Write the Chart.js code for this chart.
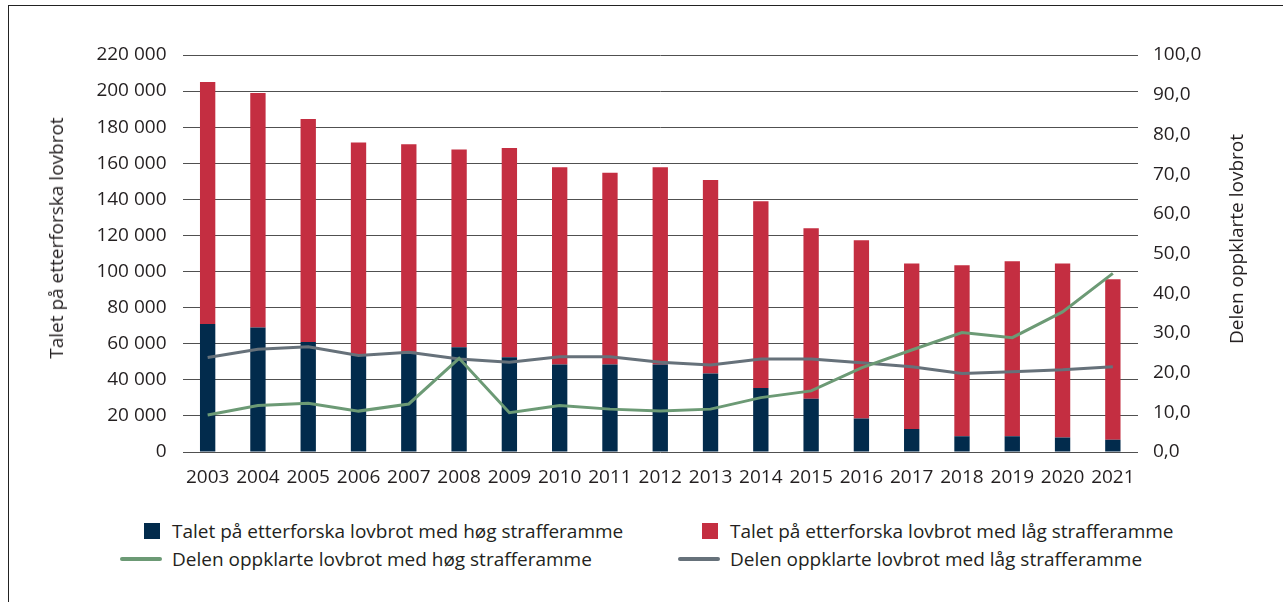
<!DOCTYPE html>
<html>
<head>
<meta charset="utf-8">
<script src="https://cdn.jsdelivr.net/npm/chart.js@4/dist/chart.umd.min.js"></script>
<style>
  html, body { margin: 0; padding: 0; background: #fff; overflow: hidden; width: 1283px; height: 602px; }
  #frame { position: absolute; left: 8px; top: 5px; width: 1400px; height: 700px; border: 1.5px solid #222; box-sizing: border-box; }
  #wrap { position: absolute; left: 0; top: 0; width: 1283px; height: 495px; }
  #legend { position: absolute; left: 120px; top: 518px; font-family: "Open Sans", sans-serif; font-size: 19px; color: #231f20; }
  .item { position: absolute; white-space: nowrap; height: 26px; line-height: 26px; }
  .mk { position: absolute; left: 0; top: 0; width: 42px; height: 26px; }
  .txt { position: absolute; left: 52px; top: 0; }
  .atitle { position: absolute; white-space: nowrap; font-family: "Open Sans", sans-serif; font-size: 19px; color: #231f20;
            transform: translate(-50%, -50%) rotate(-90deg); line-height: 22px; }
</style>
</head>
<body>
<div id="frame"></div>
<div id="wrap"><canvas id="c" width="1283" height="495"></canvas></div>
<div id="legend"></div>
<div id="tl" class="atitle" style="left:56px; top:238px;"></div>
<div id="tr" class="atitle" style="left:1236px; top:239px;"></div>
<script>
const years = ['2003','2004','2005','2006','2007','2008','2009','2010','2011','2012','2013','2014','2015','2016','2017','2018','2019','2020','2021'];
const hoegCount = [71000, 69000, 61000, 54000, 55500, 58000, 52500, 48500, 48500, 48500, 43500, 35500, 29500, 18500, 12800, 8700, 8700, 8000, 6800];
const laagCount = [134000, 130000, 123500, 117500, 115000, 109700, 116000, 109300, 106300, 109300, 107200, 103500, 94500, 98800, 91600, 94800, 97000, 96400, 88900];
const hoegShare = [9.3, 11.7, 12.3, 10.3, 12.1, 23.6, 9.9, 11.7, 10.8, 10.3, 10.8, 13.7, 15.4, 21.2, 25.7, 30.1, 28.8, 35.3, 45.0];
const laagShare = [23.8, 25.9, 26.5, 24.3, 25.1, 23.4, 22.6, 24.0, 24.0, 22.6, 21.9, 23.4, 23.4, 22.5, 21.5, 19.8, 20.2, 20.7, 21.5];
const labels = [
  'Talet på etterforska lovbrot med høg strafferamme',
  'Talet på etterforska lovbrot med låg strafferamme',
  'Delen oppklarte lovbrot med høg strafferamme',
  'Delen oppklarte lovbrot med låg strafferamme'
];
const leftTitle = 'Talet på etterforska lovbrot';
const rightTitle = 'Delen oppklarte lovbrot';

const C_NAVY = '#022b4c', C_RED = '#c42e41', C_GREEN = '#6c9a75', C_GREY = '#66717a';
const FONT = '"Open Sans", sans-serif';
const TXT = '#231f20';

document.getElementById('tl').textContent = leftTitle;
document.getElementById('tr').textContent = rightTitle;

const ctx = document.getElementById('c');
const chart = new Chart(ctx, {
  data: {
    labels: years,
    datasets: [
      { type: 'line', label: labels[2], data: hoegShare, yAxisID: 'y1', borderColor: C_GREEN, borderWidth: 3, pointRadius: 0, tension: 0, order: 0 },
      { type: 'line', label: labels[3], data: laagShare, yAxisID: 'y1', borderColor: C_GREY, borderWidth: 3, pointRadius: 0, tension: 0, order: 0 },
      { type: 'bar', label: labels[0], data: hoegCount, yAxisID: 'y', backgroundColor: C_NAVY, stack: 's', order: 1, categoryPercentage: 1, barPercentage: 0.305 },
      { type: 'bar', label: labels[1], data: laagCount, yAxisID: 'y', backgroundColor: C_RED, stack: 's', order: 1, categoryPercentage: 1, barPercentage: 0.305 }
    ]
  },
  options: {
    responsive: false,
    animation: false,
    devicePixelRatio: 1,
    layout: { padding: { left: 0, right: 0, top: 55, bottom: 0 } },
    plugins: { legend: { display: false }, tooltip: { enabled: false } },
    scales: {
      x: {
        stacked: true,
        grid: { display: false, drawTicks: false },
        border: { display: false },
        ticks: { color: TXT, font: { family: FONT, size: 19 }, padding: 14, maxRotation: 0 },
        afterFit: s => { s.height = 43; }
      },
      y: {
        stacked: true,
        position: 'left',
        min: 0, max: 220000,
        grid: { color: '#505050', lineWidth: 1, drawTicks: false },
        border: { display: false },
        ticks: {
          stepSize: 20000, padding: 16, color: TXT, font: { family: FONT, size: 19 },
          callback: v => String(v).replace(/\B(?=(\d{3})+(?!\d))/g, ' ')
        },
        afterFit: s => { s.width = 182.5; }
      },
      y1: {
        position: 'right',
        min: 0, max: 100,
        grid: { display: false, drawTicks: false },
        border: { display: false },
        ticks: {
          stepSize: 10, padding: 15, color: TXT, font: { family: FONT, size: 19 },
          callback: v => Number(v).toFixed(1).replace('.', ',')
        },
        afterFit: s => { s.width = 145; }
      }
    }
  }
});

// HTML legend built from the chart's datasets
const legendEl = document.getElementById('legend');
const slots = [
  { ds: 2, x: 0, y: 0 }, { ds: 3, x: 558, y: 0 },
  { ds: 0, x: 0, y: 28 }, { ds: 1, x: 558, y: 28 }
];
slots.forEach(sl => {
  const d = chart.data.datasets[sl.ds];
  const it = document.createElement('div');
  it.className = 'item';
  it.style.left = sl.x + 'px';
  it.style.top = sl.y + 'px';
  const mk = document.createElement('div');
  mk.className = 'mk';
  const sw = document.createElement('div');
  sw.style.position = 'absolute';
  if (d.type === 'bar') {
    sw.style.left = '24px'; sw.style.top = '5px'; sw.style.width = '16px'; sw.style.height = '16px';
    sw.style.background = d.backgroundColor;
  } else {
    sw.style.left = '0px'; sw.style.top = '11px'; sw.style.width = '42px'; sw.style.height = '4px';
    sw.style.background = d.borderColor; sw.style.borderRadius = '2px';
  }
  mk.appendChild(sw);
  const tx = document.createElement('span');
  tx.className = 'txt';
  tx.textContent = d.label;
  it.appendChild(mk); it.appendChild(tx);
  legendEl.appendChild(it);
});
</script>
</body>
</html>
